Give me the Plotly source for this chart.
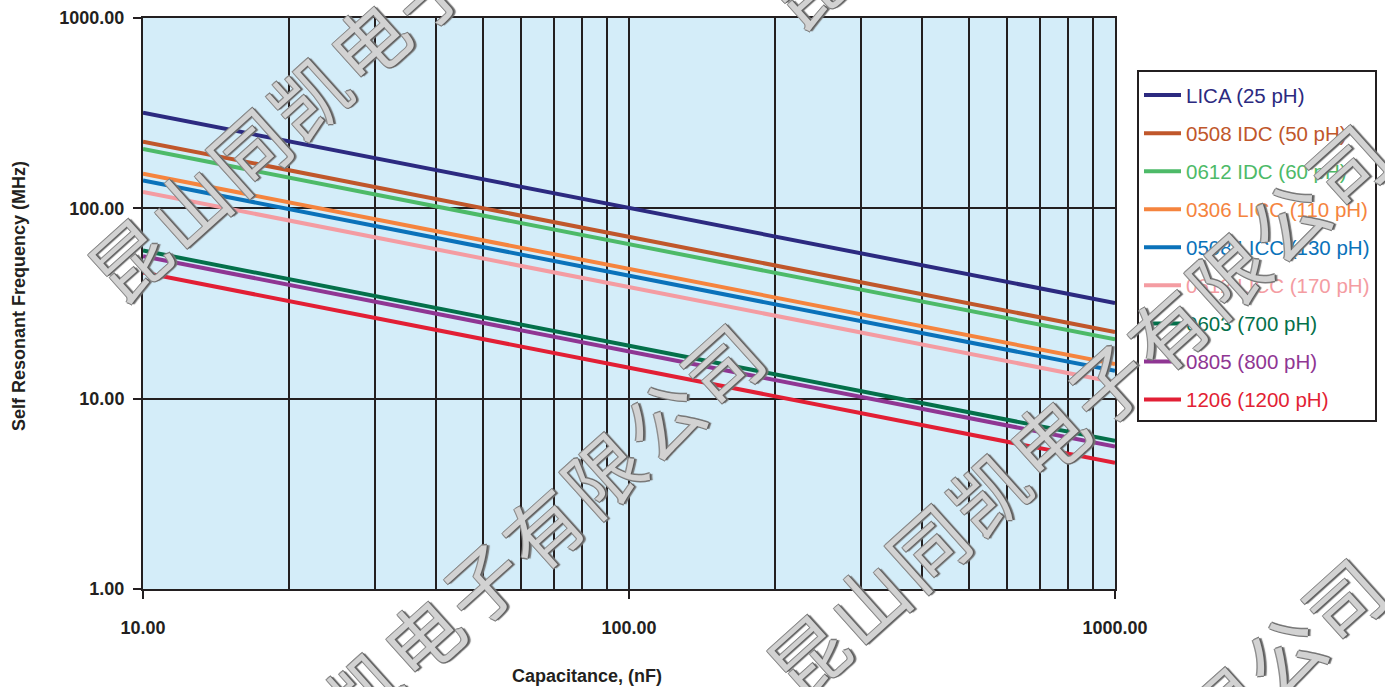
import plotly.graph_objects as go

# ---------------- data ----------------
capacitance_nf = [10, 1000]

series_names = [
    "LICA (25 pH)",
    "0508 IDC (50 pH)",
    "0612 IDC (60 pH)",
    "0306 LICC (110 pH)",
    "0508 LICC (130 pH)",
    "0612 LICC (170 pH)",
    "0603 (700 pH)",
    "0805 (800 pH)",
    "1206 (1200 pH)",
]
lica_25 = [318, 31.8]
idc0508_50 = [224, 22.4]
idc0612_60 = [205, 20.5]
licc0306_110 = [152, 15.2]
licc0508_130 = [140, 14.0]
licc0612_170 = [122, 12.2]
c0603_700 = [60, 6.0]
c0805_800 = [56, 5.6]
c1206_1200 = [46, 4.6]
series_values = [lica_25, idc0508_50, idc0612_60, licc0306_110, licc0508_130,
                 licc0612_170, c0603_700, c0805_800, c1206_1200]

series_colors = ["#2c2a80", "#c0572b", "#4dba68", "#f5843e", "#0a72ba",
                 "#f49ca2", "#04704a", "#8f3693", "#e21f35"]

x_tickvals = [10, 100, 1000]
x_ticktext = ["10.00", "100.00", "1000.00"]
x_minor = [20, 30, 40, 50, 60, 70, 80, 90, 200, 300, 400, 500, 600, 700, 800, 900]
y_tickvals = [1, 10, 100, 1000]
y_ticktext = ["1.00", "10.00", "100.00", "1000.00"]

x_title = "Capacitance, (nF)"
y_title = "Self Resonant Frequency (MHz)"
watermark = "昆山同凯电子有限公司"

# ---------------- layout geometry ----------------
W, H = 1385, 687
L, R, T, B = 143, 1115, 18, 589
PW, PH = R - L, B - T

def px(x):
    return (x - L) / PW

def py(y):
    return (B - y) / PH

FONT = "Liberation Sans, Arial, Helvetica, sans-serif"
GRID = "#231f20"

fig = go.Figure()
for name, vals, col in zip(series_names, series_values, series_colors):
    fig.add_trace(go.Scatter(
        x=capacitance_nf, y=vals, mode="lines",
        line=dict(color=col, width=4),
        name=f'<span style="color:{col}">{name}</span>',
        legendgroup=name,
    ))

fig.update_layout(
    width=W, height=H,
    margin=dict(l=L, r=W - R, t=T, b=H - B, pad=0, autoexpand=False),
    paper_bgcolor="white",
    plot_bgcolor="#d4edf9",
    showlegend=True,
    legend=dict(
        x=px(1137), y=py(70), xanchor="left", yanchor="top",
        bgcolor="white", bordercolor="#231f20", borderwidth=2,
        font=dict(family=FONT, size=20.5, color="#231f20"),
        tracegroupgap=8.4, itemwidth=37,
        entrywidth=221, entrywidthmode="pixels",
        title=dict(text="&nbsp;", font=dict(size=2.5)),
    ),
)

axis_common = dict(
    type="log",
    showline=True, linecolor=GRID, linewidth=2, mirror=True,
    showgrid=True, gridcolor=GRID, gridwidth=2,
    ticks="outside", ticklen=8, tickwidth=2, tickcolor=GRID,
    tickfont=dict(family=FONT, size=18, color="#231f20", weight="bold"),
    zeroline=False,
)
fig.update_xaxes(**axis_common, range=[1, 3], tickmode="array",
                 tickvals=x_tickvals, ticktext=x_ticktext,
                 ticklabelstandoff=13,
                 minor=dict(tickmode="array", tickvals=x_minor, showgrid=True,
                            gridcolor=GRID, gridwidth=2, ticks=""))
fig.update_yaxes(**axis_common, range=[0, 3], tickmode="array",
                 tickvals=y_tickvals, ticktext=y_ticktext,
                 ticklabelstandoff=5)

annotations = [
    dict(text=x_title, x=px(587), y=py(676), xref="paper", yref="paper",
         showarrow=False, xanchor="center", yanchor="middle",
         font=dict(family=FONT, size=18, color="#231f20", weight="bold")),
    dict(text=y_title, x=px(19), y=py(296), xref="paper", yref="paper",
         showarrow=False, xanchor="center", yanchor="middle", textangle=-90,
         font=dict(family=FONT, size=18, color="#231f20", weight="bold")),
]

# watermark: rotated outlined text, one annotation per character
wm_starts = [(127, 258), (181, 853), (806, 654), (802, 1088), (805, -15)]
step_x, step_y = 60.0, -54.4
for (x0, y0) in wm_starts:
    for k, ch in enumerate(watermark):
        X = x0 + k * step_x
        Y = y0 + k * step_y
        if X < -70 or X > W + 70 or Y < -70 or Y > H + 70:
            continue
        annotations.append(dict(
            text=ch, x=px(X), y=py(Y), xref="paper", yref="paper",
            showarrow=False, xanchor="center", yanchor="middle", textangle=-42,
            font=dict(family="Noto Sans CJK SC", size=76, color="#d2d2d2",
                      shadow="1px 1px 0 #5e5e5e, -1px -1px 0 #8e8e8e, 1px -1px 0 #7a7a7a, -1px 1px 0 #7a7a7a, 2px 2px 1px #777"),
        ))

fig.update_layout(annotations=annotations)

fig.write_html("out.html",
               config={"displayModeBar": False},
               post_script="document.body.style.margin='0';document.body.style.overflow='hidden';")
